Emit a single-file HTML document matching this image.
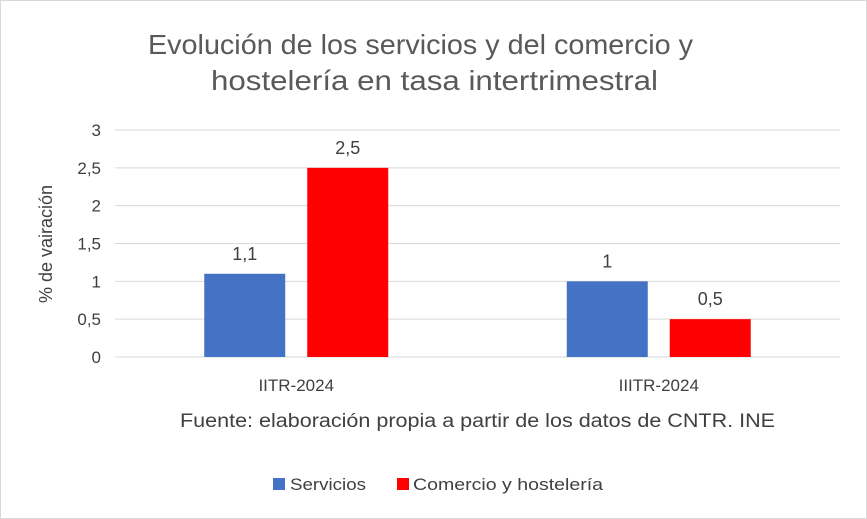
<!DOCTYPE html>
<html><head><meta charset="utf-8">
<style>
html,body{margin:0;padding:0;background:#fff;}
svg{display:block;font-family:"Liberation Sans",Arial,sans-serif;}
</style></head>
<body>
<svg id="chart" width="867" height="519" viewBox="0 0 867 519">
<rect x="0.5" y="0.5" width="866" height="518" fill="#fff" stroke="#d9d9d9"/>
<text x="148" y="54" textLength="545" lengthAdjust="spacingAndGlyphs" font-size="28" fill="#595959">Evolución de los servicios y del comercio y</text>
<text x="211" y="90" textLength="447" lengthAdjust="spacingAndGlyphs" font-size="28" fill="#595959">hostelería en tasa intertrimestral</text>
<text transform="translate(52,244) rotate(-90)" text-anchor="middle" font-size="18" fill="#404040">% de vairación</text>
<g id="grid"></g><g id="bars"></g><g id="labels"></g>
<text x="180" y="427" textLength="595" lengthAdjust="spacingAndGlyphs" font-size="19" fill="#404040">Fuente: elaboración propia a partir de los datos de CNTR. INE</text>
<g>
<rect x="273" y="478" width="12" height="12" fill="#4472c4"/>
<text x="290" y="490" textLength="76" lengthAdjust="spacingAndGlyphs" font-size="17" fill="#404040">Servicios</text>
<rect x="397" y="478" width="12" height="12" fill="#ff0000"/>
<text x="413" y="490" textLength="190" lengthAdjust="spacingAndGlyphs" font-size="17" fill="#404040">Comercio y hostelería</text>
</g>
</svg>
<script>
const categories=["IITR-2024","IIITR-2024"];
const servicios=[1.1,1];
const comercio=[2.5,0.5];
const tickValues=[0,0.5,1,1.5,2,2.5,3];
const tickLabels=["0","0,5","1","1,5","2","2,5","3"];
const ns="http://www.w3.org/2000/svg";
const X0=115,X1=840,Y0=357,Y1=130,YMAX=3;
const y=v=>Y0-(v/YMAX)*(Y0-Y1);
const bw=(X1-X0)/categories.length;
const cx=i=>X0+bw*(i+0.5);
function mk(tag,attrs,parent){const e=document.createElementNS(ns,tag);for(const k in attrs)e.setAttribute(k,attrs[k]);parent.appendChild(e);return e;}
const grid=document.getElementById('grid'),bars=document.getElementById('bars'),labels=document.getElementById('labels');
tickValues.forEach((v,i)=>{
  const l=mk('line',{x1:X0,x2:X1,y1:y(v),y2:y(v),stroke:'#d9d9d9','stroke-width':1},grid);
  
  
  const t=mk('text',{x:101,y:y(v)+6,'text-anchor':'end','font-size':17,fill:'#404040'},grid);
  t.textContent=tickLabels[i];
  
  
});
const fmt=v=>String(v).replace('.',',');
const W=81,G=22;
categories.forEach((c,i)=>{
  const series=[[servicios[i],'#4472c4',-G/2-W,'bar-servicios'],[comercio[i],'#ff0000',G/2,'bar-comercio']];
  series.forEach(s=>{
    const x=cx(i)+s[2];
    const r=mk('rect',{x:x,y:y(s[0]),width:W,height:Y0-y(s[0]),fill:s[1]},bars);
    
    
    const t=mk('text',{x:x+W/2,y:y(s[0])-14,'text-anchor':'middle','font-size':18,fill:'#404040'},labels);
    t.textContent=fmt(s[0]);
    
    
  });
  const t=mk('text',{x:cx(i),y:391,'text-anchor':'middle','font-size':17,fill:'#404040'},labels);
  t.textContent=c;
  
  
});
</script>
</body></html>
